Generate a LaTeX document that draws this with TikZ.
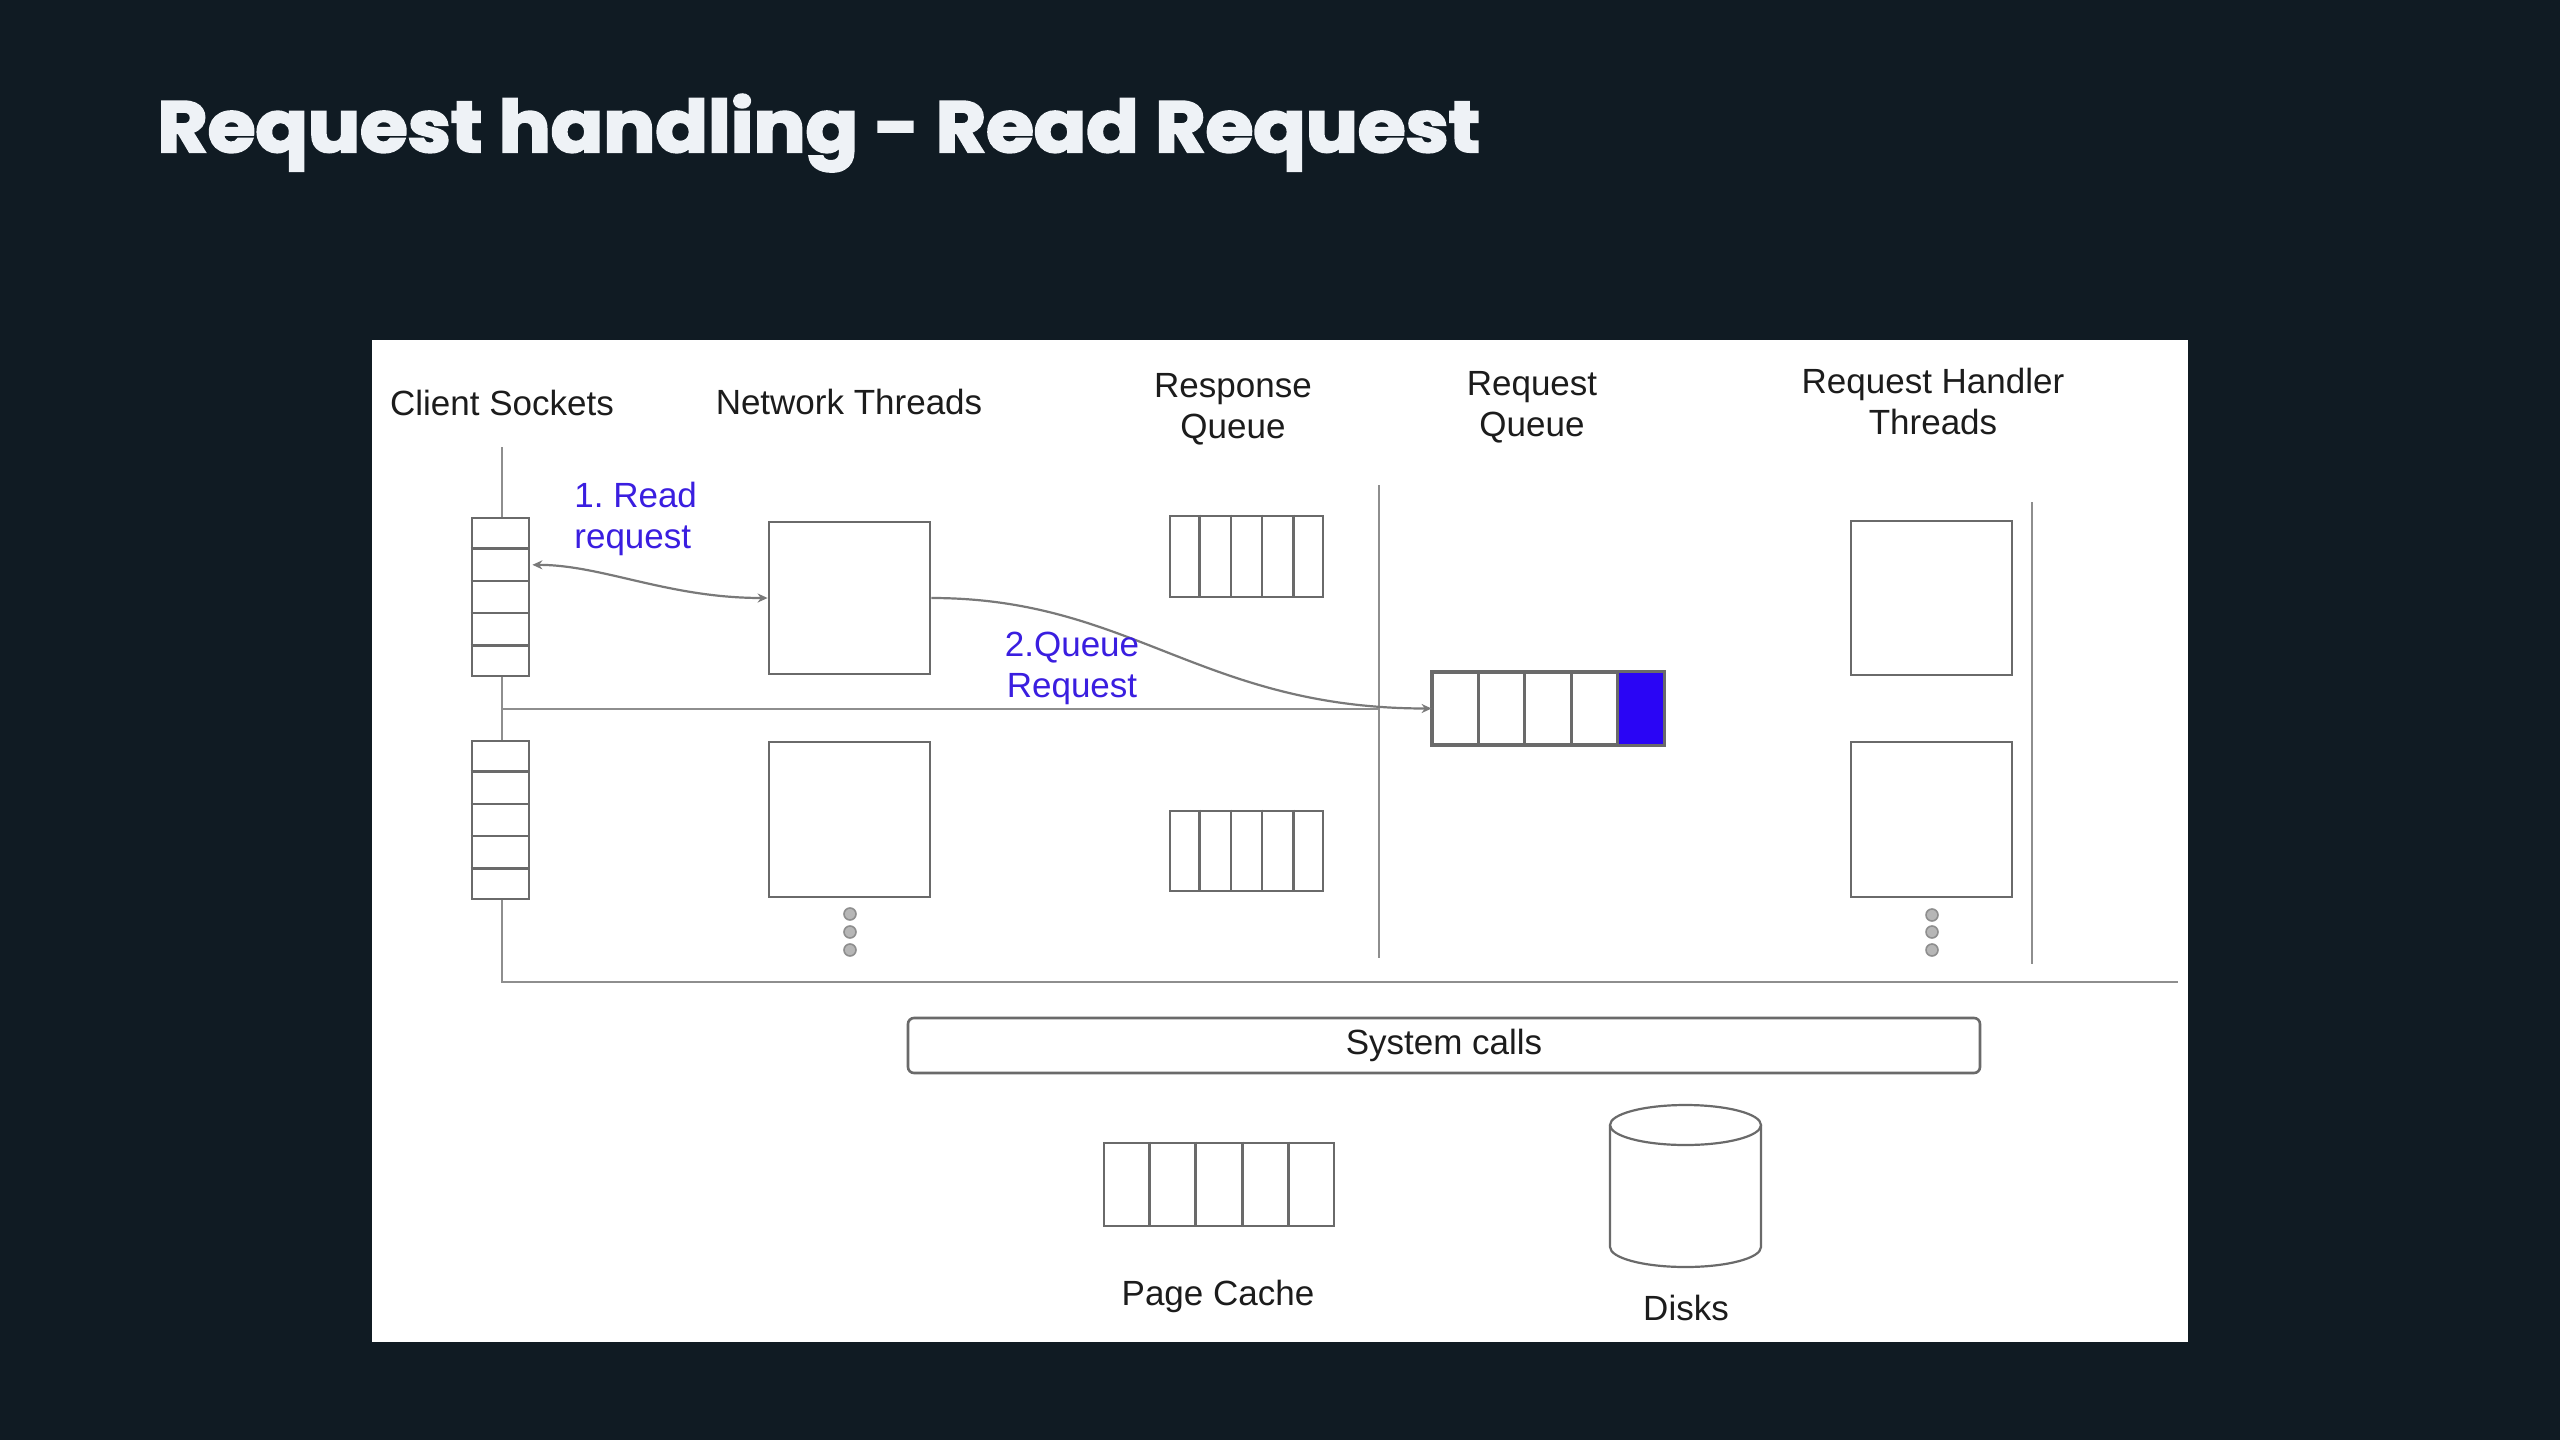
\documentclass[tikz,border=0pt]{standalone}
\usepackage{fontspec}
\setmainfont{Liberation Sans}
\newfontfamily\titlefont{Poppins}[BoldFeatures={FakeBold=3}]
\usetikzlibrary{arrows.meta,calc,fit}
\definecolor{bg}{HTML}{101B23}
\definecolor{ttl}{HTML}{EEF2F6}
\definecolor{ln}{HTML}{8E8E8E}
\definecolor{bx}{HTML}{6A6A6A}
\definecolor{blu}{HTML}{2A05F5}
\definecolor{blutxt}{HTML}{3A1EE0}
\definecolor{txt}{HTML}{1C1C1C}
\frenchspacing
\begin{document}
\begin{tikzpicture}[x=0.5pt,y=-0.5pt,
  lbl/.style={font=\fontsize{17.5}{20.5}\selectfont, text=txt, inner sep=0pt},
  bluelbl/.style={lbl, text=blutxt},
  boxst/.style={draw=bx, line width=1.4pt, fill=white, inner sep=0pt},
  cellline/.style={draw=bx, line width=1.4pt},
  wire/.style={draw=ln, line width=1.3pt},
  arr/.style={draw=ln!85!black, line width=1.1pt},
  dot/.style={circle, draw=ln, fill=ln!65, line width=0.8pt, minimum size=6pt, inner sep=0pt},
]
% background and panel
\fill[bg] (0,0) rectangle (2560,1440);
\node[fit={(372,340) (2188,1342)}, fill=white, inner sep=0pt] (panel) {};

% title
\node[anchor=base west, font=\titlefont\bfseries\fontsize{36}{40}\selectfont, text=ttl, inner sep=0pt] (title) at (157,152) {\scalebox{1.074}[1]{Request handling - Read Request}};

% column labels
\node[lbl, anchor=base] (lcs) at (502,415) {Client Sockets};
\node[lbl, anchor=base] (lnt) at (849,414) {Network Threads};
\node[lbl, anchor=base] (lrsq) at (1233,397) {\begin{tabular}[t]{@{}c@{}}Response\\Queue\end{tabular}};
\node[lbl, anchor=base] (lrqq) at (1532,395) {\begin{tabular}[t]{@{}c@{}}Request\\Queue\end{tabular}};
\node[lbl, anchor=base] (lrht) at (1933,393) {\begin{tabular}[t]{@{}c@{}}Request Handler\\Threads\end{tabular}};

% wires
\coordinate (busTop) at (502,447);
\coordinate (busBot) at (502,982);
\coordinate (busEnd) at (2178,982);
\coordinate (tap) at (502,709);
\coordinate (sepTop) at (1379,485);
\coordinate (sepBot) at (1379,958);
\coordinate (sepHit) at (1379,709);
\coordinate (hTop) at (2032,502);
\coordinate (hBot) at (2032,964);
\draw[wire] (busTop) -- (busBot) -- (busEnd);
\draw[wire] (tap) -- (sepHit);
\draw[wire] (sepTop) -- (sepBot);
\draw[wire] (hTop) -- (hBot);

% client socket stacks
\node[boxst, fit={(472,518) (529,676)}] (s1) {};
\node[boxst, fit={(472,741) (529,899)}] (s2) {};
\foreach \s in {s1,s2}{
  \foreach \i in {1,...,4}{
    \draw[cellline] ($(\s.north west)!\i/5!(\s.south west)$) -- ($(\s.north east)!\i/5!(\s.south east)$);
  }
}

% network threads
\node[boxst, fit={(769,522) (930,674)}] (n1) {};
\node[boxst, fit={(769,742) (930,897)}] (n2) {};
\node[dot] (nd1) at (850,914) {};
\node[dot] (nd2) at (850,932) {};
\node[dot] (nd3) at (850,950) {};

% response queues
\node[boxst, fit={(1170,516) (1323,597)}] (rs1) {};
\node[boxst, fit={(1170,811) (1323,891)}] (rs2) {};
\foreach \s in {rs1,rs2}{
  \foreach \i in {1,...,4}{
    \draw[cellline] ($(\s.north west)!\i/5!(\s.north east)$) -- ($(\s.south west)!\i/5!(\s.south east)$);
  }
}

% request queue
\node[boxst, fit={(1433,673) (1663,744)}] (rq) {};
\fill[blu] ($(rq.north west)!0.8!(rq.north east)$) rectangle (rq.south east);
\draw[cellline] (rq.north west) rectangle (rq.south east);
\foreach \i in {1,...,4}{
  \draw[cellline] ($(rq.north west)!\i/5!(rq.north east)$) -- ($(rq.south west)!\i/5!(rq.south east)$);
}

% request handler threads
\node[boxst, fit={(1851,521) (2012,675)}] (h1) {};
\node[boxst, fit={(1851,742) (2012,897)}] (h2) {};
\node[dot] (hd1) at (1932,915) {};
\node[dot] (hd2) at (1932,932) {};
\node[dot] (hd3) at (1932,950) {};

% arrows
\draw[arr, {Stealth[length=5pt,width=4.5pt]}-{Stealth[length=5pt,width=4.5pt]}]
  ($(s1.north east)!0.3!(s1.south east)+(2,0)$) .. controls +(70,0) and +(-100,0) .. (n1.west);
\draw[arr, -{Stealth[length=5pt,width=4.5pt]}]
  (n1.east) .. controls +(200,0) and +(-230,0) .. (rq.west);

% step labels
\node[bluelbl, anchor=base west] (step1) at (574,507) {\begin{tabular}[t]{@{}l@{}}1. Read\\request\end{tabular}};
\node[bluelbl, anchor=base] (step2) at (1072,656) {\begin{tabular}[t]{@{}c@{}}2.Queue\\Request\end{tabular}};

% system calls
\node[draw=bx, line width=1.3pt, rounded corners=3pt, minimum width=536pt, minimum height=27.5pt, lbl] (sys) at (1444,1045.5) {System calls};

% page cache
\node[boxst, fit={(1104,1143) (1334,1226)}] (pc) {};
\foreach \i in {1,...,4}{
  \draw[cellline] ($(pc.north west)!\i/5!(pc.north east)$) -- ($(pc.south west)!\i/5!(pc.south east)$);
}
\node[lbl, anchor=base] (lpc) at (1218,1305) {Page Cache};

% disk
\draw[draw=bx, line width=1.1pt, fill=white] (1610,1125) -- (1610,1247) arc[start angle=180, end angle=0, x radius=75.5, y radius=20] -- (1761,1125);
\draw[draw=bx, line width=1.1pt, fill=white] (1685.5,1125) ellipse [x radius=75.5, y radius=20];
\node[lbl, anchor=base] (ldk) at (1686,1320) {Disks};
\end{tikzpicture}
\end{document}
